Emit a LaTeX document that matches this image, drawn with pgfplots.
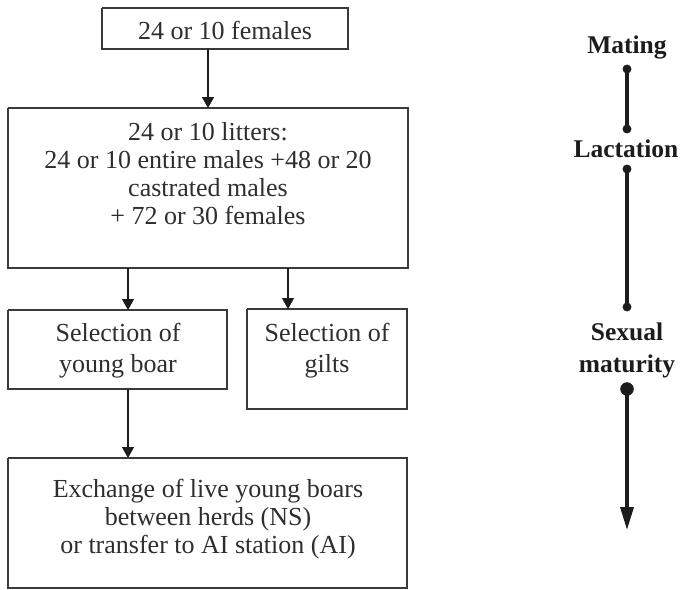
\documentclass[border=0pt]{standalone}
\usepackage{fontspec}
\setmainfont{Liberation Serif}
\usepackage{pgfplots}
\pgfplotsset{compat=1.18}
\usetikzlibrary{arrows.meta}
\definecolor{boxline}{HTML}{3A3A3A}
\definecolor{txt}{HTML}{2E2E2E}
\definecolor{tline}{HTML}{1C1C1C}
\tikzset{
  bt/.style={anchor=base, inner sep=0pt, text=txt, font=\fontsize{26}{30}\selectfont},
  rt/.style={anchor=base, inner sep=0pt, text=tline, font=\fontsize{25.5}{30}\selectfont\bfseries},
}
\begin{document}
\begin{tikzpicture}
\begin{axis}[
  width=682pt, height=589pt, scale only axis,
  xmin=0, xmax=682, ymin=0, ymax=589,
  y dir=reverse, hide axis, clip=false,
  box/.style={draw=boxline, line width=1.4pt, line join=miter, mark=none},
  arr/.style={draw=tline, line width=1.5pt, mark=none, -{Triangle[length=11pt,width=12pt]}},
]
% bounding frame (invisible)
\addplot[draw=none, mark=none] coordinates {(0,0) (682,589)};
% boxes
\addplot[box] coordinates {(102,8) (348,8) (348,49) (102,49) (102,8)};
\addplot[box] coordinates {(8,108) (408,108) (408,268) (8,268) (8,108)};
\addplot[box] coordinates {(8,310) (227,310) (227,389) (8,389) (8,310)};
\addplot[box] coordinates {(247,309) (407,309) (407,409) (247,409) (247,309)};
\addplot[box] coordinates {(8,458) (407,458) (407,588) (8,588) (8,458)};
% arrows
\addplot[arr] coordinates {(208,49) (208,108)};
\addplot[arr] coordinates {(128,268) (128,310)};
\addplot[arr] coordinates {(288,268) (288,309)};
\addplot[arr] coordinates {(128,389) (128,458)};
% box texts
\node[bt] at (axis cs:225,39) {24 or 10 females};
\node[bt] at (axis cs:208,140) {24 or 10 litters:};
\node[bt] at (axis cs:208,168) {24 or 10 entire males +48 or 20};
\node[bt] at (axis cs:208,196) {castrated males};
\node[bt] at (axis cs:208,224) {+ 72 or 30 females};
\node[bt] at (axis cs:118,341) {Selection of};
\node[bt] at (axis cs:118,372) {young boar};
\node[bt] at (axis cs:327,341) {Selection of};
\node[bt] at (axis cs:327,372) {gilts};
\node[bt] at (axis cs:208,497) {Exchange of live young boars};
\node[bt] at (axis cs:208,525) {between herds (NS)};
\node[bt] at (axis cs:208,553) {or transfer to AI station (AI)};
% timeline
\addplot[draw=tline, line width=3.4pt, mark=none] coordinates {(627,69) (627,129)};
\addplot[draw=tline, line width=3.4pt, mark=none] coordinates {(627,169) (627,307)};
\addplot[draw=tline, line width=3.4pt, mark=none, -{Triangle[length=23pt,width=13pt]}] coordinates {(627,389) (627,530)};
\addplot[only marks, mark=*, mark size=4.2pt, color=tline] coordinates {(627,69) (627,129) (627,169) (627,307)};
\addplot[only marks, mark=*, mark size=6.5pt, color=tline] coordinates {(627,389)};
\node[rt] at (axis cs:627,53) {Mating};
\node[rt] at (axis cs:626,157) {Lactation};
\node[rt] at (axis cs:627,340) {Sexual};
\node[rt] at (axis cs:627,372) {maturity};
\end{axis}
\end{tikzpicture}
\end{document}
